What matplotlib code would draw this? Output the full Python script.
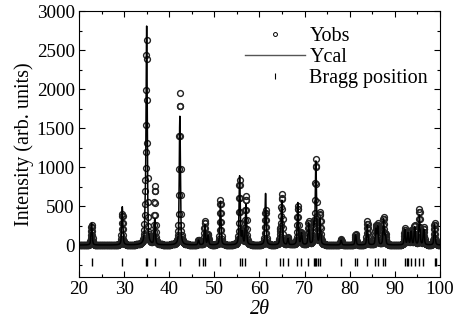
import numpy as np
import matplotlib
matplotlib.use("Agg")
import matplotlib.pyplot as plt
from matplotlib.ticker import MultipleLocator
from matplotlib.lines import Line2D

plt.rcParams['font.family'] = ['Liberation Serif', 'DejaVu Serif']
plt.rcParams['font.size'] = 14.5

# ---- peak data ----
peak_pos = [22.8, 29.6, 34.7, 35.0, 36.8, 42.35, 46.5, 47.9, 48.6, 51.35,
            55.6, 56.2, 57.0, 61.35, 64.6, 64.95, 66.3, 68.5, 69.3, 70.9,
            72.05, 72.5, 73.45, 78.1, 81.3, 83.9, 85.8, 86.2, 87.5, 87.9,
            92.2, 92.9, 93.6, 94.4, 95.45, 96.4, 98.8]
peak_cal = [280, 490, 350, 2760, 330, 1650, 60, 260, 120, 560,
            880, 150, 520, 660, 140, 560, 80, 540, 150, 280,
            250, 1060, 330, 60, 130, 260, 200, 230, 330, 120,
            200, 150, 170, 230, 380, 200, 270]
peak_obs = [260, 400, 500, 2560, 750, 1950, 60, 300, 130, 580,
            830, 160, 620, 450, 150, 640, 90, 500, 160, 300,
            260, 1080, 410, 70, 140, 300, 240, 260, 350, 130,
            210, 170, 180, 250, 450, 220, 280]
peak_fwhm = 0.3

bragg_pos = [22.8, 29.6, 34.8, 35.0, 36.8, 42.35, 46.5, 47.5, 47.9, 51.3,
             55.6, 56.2, 56.9, 61.35, 64.6, 65.1, 66.3, 68.4, 69.1, 70.7,
             72.0, 72.3, 72.6, 72.9, 73.3, 78.0, 81.2, 81.5, 83.9, 85.7,
             86.2, 87.4, 87.9, 92.2, 92.6, 93.0, 93.6, 94.4, 95.4, 96.3,
             98.8, 99.1]
bragg_y = -215

step = 0.05
two_theta = np.arange(20, 100 + step / 2, step)


def profile(x, pos, heights, fwhm):
    # pseudo-Voigt sum of the listed peaks
    y = np.zeros_like(x)
    g = fwhm / 2
    for p, h in zip(pos, heights):
        lor = 1 / (1 + ((x - p) / g) ** 2)
        gau = np.exp(-np.log(2) * ((x - p) / g) ** 2)
        y += h * (0.5 * lor + 0.5 * gau)
    return y


y_cal = profile(two_theta, peak_pos, peak_cal, peak_fwhm)
y_obs = profile(two_theta, peak_pos, peak_obs, peak_fwhm)

fig = plt.figure(figsize=(4.55, 3.35), dpi=100)
ax = fig.add_axes([0.1736, 0.173, 0.7934, 0.794])

ax.plot(two_theta, y_obs, 'o', mfc='none', mec='#222222', ms=4.2, mew=1.0,
        linestyle='none')
ax.plot(two_theta, y_cal, '-', color='black', lw=1.1)
ax.plot(bragg_pos, [bragg_y] * len(bragg_pos), '|', color='black', ms=5.5,
        mew=1.0, linestyle='none')

ax.set_xlim(20, 100)
ax.set_ylim(-410, 3000)
ax.xaxis.set_major_locator(MultipleLocator(10))
ax.xaxis.set_minor_locator(MultipleLocator(5))
ax.yaxis.set_major_locator(MultipleLocator(500))
ax.yaxis.set_minor_locator(MultipleLocator(250))
ax.set_yticks([0, 500, 1000, 1500, 2000, 2500, 3000])
ax.tick_params(which='both', direction='in', top=True, right=True,
               labeltop=False, labelright=False, labelsize=13.8)
ax.tick_params(which='major', length=4, width=0.8, pad=3)
ax.tick_params(which='minor', length=2.5, width=0.8)
for s in ax.spines.values():
    s.set_linewidth(0.8)

ax.set_xlabel('2θ', fontstyle='italic', labelpad=1)
ax.set_ylabel('Intensity (arb. units)', labelpad=2)

handles = [
    Line2D([], [], marker='o', mfc='none', mec='black', ms=2.8, mew=0.7,
           linestyle='none'),
    Line2D([], [], color='#555555', lw=1.0),
    Line2D([], [], marker='|', color='black', ms=5, mew=0.8, linestyle='none'),
]
ax.legend(handles, ['Yobs', 'Ycal', 'Bragg position'], loc='upper right',
          bbox_to_anchor=(0.967, 0.94), frameon=False, borderpad=0,
          borderaxespad=0, handlelength=3.0, handletextpad=0.2,
          labelspacing=0.1)

fig.savefig('out.png', dpi=100)
